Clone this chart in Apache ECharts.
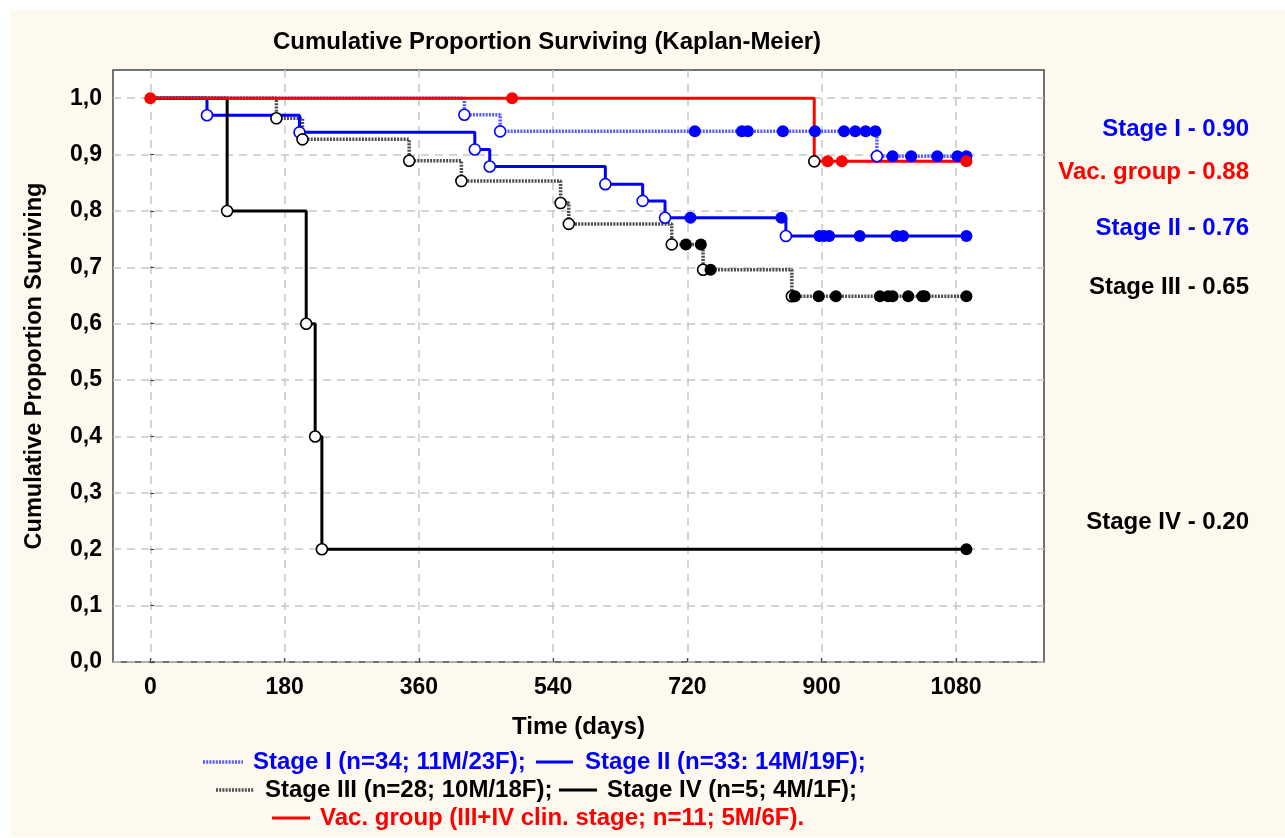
<!DOCTYPE html>
<html>
<head>
<meta charset="utf-8">
<script src="https://cdn.jsdelivr.net/npm/echarts@6/dist/echarts.min.js"></script>
<style>
  html, body { margin: 0; padding: 0; background: #ffffff; }
  #frame { position: absolute; left: 11px; top: 10px; width: 1274px; height: 827px; background: #fdf9ee; }
  #chart { position: absolute; left: 0; top: 0; width: 1285px; height: 838px; }
</style>
</head>
<body>
<div id="frame"></div>
<div id="chart"></div>
<script>
// ---------- data ----------
const xTicks = [0, 180, 360, 540, 720, 900, 1080];
const yTicks = [0, 0.1, 0.2, 0.3, 0.4, 0.5, 0.6, 0.7, 0.8, 0.9, 1.0];

// Stage I (n=34)
const stage1Time = [0, 421, 469, 974, 1095];
const stage1Surv = [1, 0.9706, 0.9412, 0.897, 0.897];
const stage1CensTime = [730, 793, 801, 848, 891, 930, 945, 959, 972, 995, 1020, 1055, 1082, 1094];
const stage1CensSurv = [0.9412, 0.9412, 0.9412, 0.9412, 0.9412, 0.9412, 0.9412, 0.9412, 0.9412, 0.897, 0.897, 0.897, 0.897, 0.897];

// Stage II (n=33)
const stage2Time = [0, 76, 200, 435, 455, 610, 660, 690, 852, 1095];
const stage2Surv = [1, 0.9697, 0.9394, 0.9091, 0.8788, 0.8475, 0.8178, 0.788, 0.7555, 0.7555];
const stage2CensTime = [724, 846, 897, 903, 910, 951, 1000, 1009, 1094];
const stage2CensSurv = [0.788, 0.788, 0.7555, 0.7555, 0.7555, 0.7555, 0.7555, 0.7555, 0.7555];

// Stage III (n=28)
const stage3Time = [0, 169, 204, 347, 417, 550, 561, 699, 741, 860, 1095];
const stage3Surv = [1, 0.9643, 0.927, 0.889, 0.853, 0.814, 0.777, 0.7407, 0.6957, 0.6488, 0.6488];
const stage3CensTime = [718, 738, 751, 864, 896, 919, 978, 989, 995, 1016, 1035, 1038, 1094];
const stage3CensSurv = [0.7407, 0.7407, 0.6957, 0.6488, 0.6488, 0.6488, 0.6488, 0.6488, 0.6488, 0.6488, 0.6488, 0.6488, 0.6488];

// Stage IV (n=5)
const stage4Time = [0, 103, 209, 221, 230, 1095];
const stage4Surv = [1, 0.8, 0.6, 0.4, 0.2, 0.2];
const stage4CensTime = [1094];
const stage4CensSurv = [0.2];

// Vaccinated group (n=11)
const vacTime = [0, 890, 1095];
const vacSurv = [1, 0.888, 0.888];
const vacCensTime = [0, 485, 908, 927, 1094];
const vacCensSurv = [1, 1, 0.888, 0.888, 0.888];

const legendNames = [
  'Stage I (n=34; 11M/23F);',
  'Stage II (n=33: 14M/19F);',
  'Stage III (n=28; 10M/18F);',
  'Stage IV (n=5; 4M/1F);',
  'Vac. group (III+IV clin. stage; n=11; 5M/6F).'
];
const endLabelNames = ['Stage I', 'Vac. group', 'Stage II', 'Stage III', 'Stage IV'];
const endLabelValues = [0.90, 0.88, 0.76, 0.65, 0.20];

// ---------- styling ----------
const FONT = '"Liberation Sans", Arial, sans-serif';
const C1 = '#5a5aff', C2 = '#0000ff', C3 = '#4d4d4d', C4 = '#000000', CV = '#ff0000';
const dotted = [2, 1.2];

function pairs(t, s) { return t.map((v, i) => [v, s[i]]); }
function eventPairs(t, s) { return pairs(t, s).slice(1, t.length - 1); }

function curve(name, t, s, color, width, type) {
  return {
    name: name, type: 'line', step: 'end', showSymbol: false, symbol: 'none',
    data: pairs(t, s), z: 2,
    lineStyle: { color: color, width: width, type: type, cap: 'butt' },
    itemStyle: { color: color },
    silent: true, animation: false
  };
}
function events(t, s, border) {
  return {
    type: 'scatter', symbol: 'circle', symbolSize: 11, z: 5,
    data: eventPairs(t, s),
    itemStyle: { color: '#ffffff', borderColor: border, borderWidth: 1.6, opacity: 1 },
    silent: true, animation: false
  };
}
function censored(t, s, color) {
  return {
    type: 'scatter', symbol: 'circle', symbolSize: 12, z: 6,
    data: pairs(t, s),
    itemStyle: { color: color, opacity: 1 },
    silent: true, animation: false
  };
}

const chart = echarts.init(document.getElementById('chart'), null, { renderer: 'canvas' });

const endLabelY = [129, 172, 228, 287, 522];
const endLabelColor = [C2, CV, C2, '#000000', '#000000'];
const graphics = [];
endLabelNames.forEach((n, i) => {
  graphics.push({
    type: 'text', x: 1249, y: endLabelY[i],
    style: { text: n + ' - ' + endLabelValues[i].toFixed(2), fill: endLabelColor[i],
      font: 'bold 24px ' + FONT, textAlign: 'right', textVerticalAlign: 'middle' }
  });
});

// legend (drawn as samples + text)
const legendRows = [
  { x1: 203, x2: 243, y: 762, color: C1, dash: dotted, w: 3.5, tx: 253, text: legendNames[0], tc: C2 },
  { x1: 536, x2: 573, y: 762, color: C2, dash: 'solid', w: 3, tx: 585, text: legendNames[1], tc: C2 },
  { x1: 216, x2: 254, y: 790, color: C3, dash: dotted, w: 3.5, tx: 265, text: legendNames[2], tc: '#000' },
  { x1: 559, x2: 597, y: 790, color: C4, dash: 'solid', w: 3, tx: 607, text: legendNames[3], tc: '#000' },
  { x1: 272, x2: 310, y: 818, color: CV, dash: 'solid', w: 3, tx: 320, text: legendNames[4], tc: CV }
];
legendRows.forEach(r => {
  graphics.push({
    type: 'line', shape: { x1: r.x1, y1: r.y, x2: r.x2, y2: r.y },
    style: { stroke: r.color, lineWidth: r.w, lineDash: r.dash === 'solid' ? null : r.dash }
  });
  graphics.push({
    type: 'text', x: r.tx, y: r.y,
    style: { text: r.text, fill: r.tc, font: 'bold 24px ' + FONT, textAlign: 'left', textVerticalAlign: 'middle' }
  });
});

const option = {
  animation: false,
  title: {
    text: 'Cumulative Proportion Surviving (Kaplan-Meier)',
    left: 268, top: 25,
    textStyle: { fontFamily: FONT, fontWeight: 'bold', fontSize: 24, color: '#000' }
  },
  grid: {
    left: 113, right: 241, top: 70, bottom: 176,
    show: true, backgroundColor: '#ffffff', borderColor: '#444444', borderWidth: 1.5
  },
  xAxis: {
    type: 'value', min: -50, max: 1198,
    name: 'Time (days)', nameLocation: 'middle', nameGap: 53,
    nameTextStyle: { fontFamily: FONT, fontWeight: 'bold', fontSize: 24, color: '#000' },
    axisLine: { show: false },
    axisTick: { show: true, inside: true, length: 4, customValues: xTicks, lineStyle: { color: '#444', width: 1.2 } },
    axisLabel: { customValues: xTicks, margin: 14, fontFamily: FONT, fontWeight: 'bold', fontSize: 23, color: '#000',
      formatter: v => String(v) },
    splitLine: { show: true, lineStyle: { color: '#c8c8c8', width: 1.5, type: [8, 6] } }
  },
  yAxis: {
    type: 'value', min: 0, max: 1.05,
    name: 'Cumulative Proportion Surviving', nameLocation: 'middle', nameGap: 66, nameRotate: 90,
    nameTextStyle: { fontFamily: FONT, fontWeight: 'bold', fontSize: 23.5, color: '#000' },
    axisLine: { show: false },
    axisTick: { show: true, inside: true, length: 4, customValues: yTicks, lineStyle: { color: '#444', width: 1.2 } },
    axisLabel: {
      customValues: yTicks, margin: 11, fontFamily: FONT, fontWeight: 'bold', fontSize: 23, color: '#000',
      formatter: v => v.toFixed(1).replace('.', ',')
    },
    splitLine: { show: true, lineStyle: { color: '#c8c8c8', width: 1.5, type: [8, 6] } }
  },
  graphic: graphics,
  series: [
    curve(legendNames[0], stage1Time, stage1Surv, C1, 3.5, dotted),
    curve(legendNames[2], stage3Time, stage3Surv, C3, 3.5, dotted),
    curve(legendNames[1], stage2Time, stage2Surv, C2, 3, 'solid'),
    curve(legendNames[3], stage4Time, stage4Surv, C4, 3, 'solid'),
    curve(legendNames[4], vacTime, vacSurv, CV, 3, 'solid'),
    events(stage1Time, stage1Surv, C2),
    events(stage2Time, stage2Surv, C2),
    events(stage3Time, stage3Surv, '#000'),
    events(stage4Time, stage4Surv, '#000'),
    events(vacTime, vacSurv, '#000'),
    censored(stage1CensTime, stage1CensSurv, C2),
    censored(stage2CensTime, stage2CensSurv, C2),
    censored(stage3CensTime, stage3CensSurv, '#000'),
    censored(stage4CensTime, stage4CensSurv, '#000'),
    censored(vacCensTime, vacCensSurv, CV)
  ]
};
chart.setOption(option);
</script>
</body>
</html>
